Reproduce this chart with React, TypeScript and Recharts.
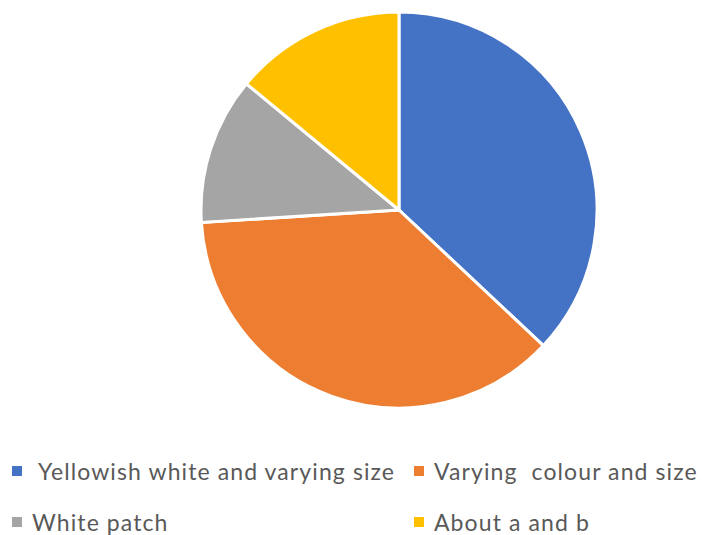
import { PieChart, Pie, Cell, Legend } from "recharts";

const categories = [
  "Yellowish white and varying size",
  "Varying  colour and size",
  "White patch",
  "About a and b",
];
const values = [37, 37, 12, 14];
const colors = ["#4472C4", "#ED7D31", "#A5A5A5", "#FFC000"];

const data = categories.map((name, i) => ({ name, value: values[i] }));

// legend is laid out in two columns, in data order (row by row)
function LegendGrid() {
  return (
    <div
      style={{
        display: "grid",
        gridTemplateColumns: "402px 300px",
        gridAutoRows: 51,
        fontFamily: "Lato, 'Open Sans', sans-serif",
        fontSize: 23,
        letterSpacing: 1.1,
        color: "#595959",
      }}
    >
      {data.map((d, i) => (
        <div key={d.name} style={{ display: "flex", alignItems: "center", paddingLeft: 12 }}>
          <span style={{ width: 10, height: 10, background: colors[i], marginRight: i === 0 ? 16 : 10, flex: "none" }} />
          <span style={{ whiteSpace: "pre" }}>{d.name}</span>
        </div>
      ))}
    </div>
  );
}

export default function App() {
  return (
    <div style={{ position: "absolute", left: 0, top: 0, width: 702, height: 535, background: "#fff" }}>
      <PieChart width={702} height={535} margin={{ top: 0, right: 0, bottom: 0, left: 0 }}>
        <Pie
          data={data}
          dataKey="value"
          nameKey="name"
          cx={399}
          cy={210}
          outerRadius={198}
          startAngle={90}
          endAngle={-270}
          stroke="#fff"
          strokeWidth={3}
          isAnimationActive={false}
        >
          {data.map((d, i) => (
            <Cell key={d.name} fill={colors[i]} />
          ))}
        </Pie>
        <Legend
          content={<LegendGrid />}
          wrapperStyle={{ left: 0, top: 445, width: 702 }}
        />
      </PieChart>
    </div>
  );
}
